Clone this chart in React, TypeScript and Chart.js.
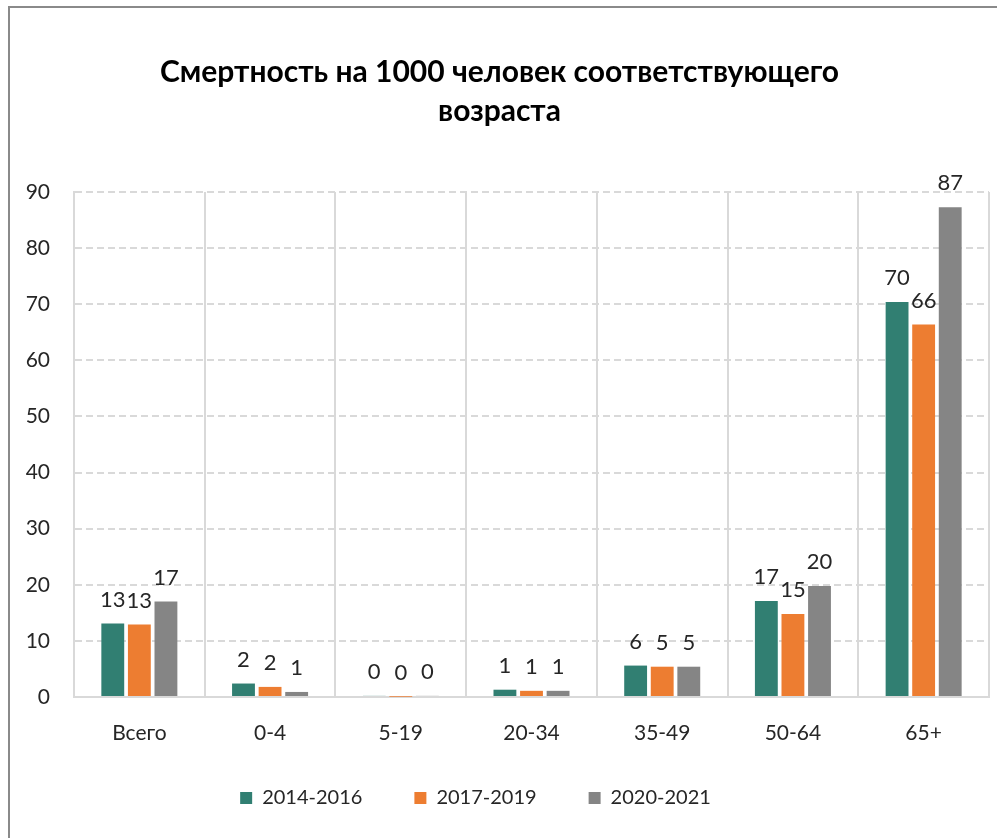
import React, { useEffect, useRef } from "react";
import { Chart, registerables } from "chart.js";

Chart.register(...registerables);

const categories = ["Всего", "0-4", "5-19", "20-34", "35-49", "50-64", "65+"];
const seriesNames = ["2014-2016", "2017-2019", "2020-2021"];
const values2014 = [13.1, 2.4, 0.2, 1.3, 5.6, 17.1, 70.4];
const values2017 = [12.9, 1.8, 0.05, 1.1, 5.4, 14.8, 66.4];
const values2020 = [17.0, 0.9, 0.2, 1.1, 5.4, 19.8, 87.3];
const colors = ["#317F72", "#ED7D31", "#858585"];
const titleLines = ["Смертность на 1000 человек соответствующего", "возраста"];
const yMax = 90;
const yStep = 10;

const FONT = "Lato, 'Open Sans', sans-serif";
const LEGEND_PAD = 52;
const LEGEND_CENTER_Y = 798;
const LEGEND_SHIFT_X = -24;

const dataLabelPlugin = {
  id: "dataLabels",
  afterDatasetsDraw(chart: any) {
    const ctx = chart.ctx;
    ctx.save();
    ctx.font = `22px ${FONT}`;
    ctx.fillStyle = "#262626";
    ctx.textAlign = "center";
    ctx.textBaseline = "bottom";
    chart.data.datasets.forEach((ds: any, di: number) => {
      const meta = chart.getDatasetMeta(di);
      meta.data.forEach((el: any, i: number) => {
        const v = ds.data[i];
        ctx.fillText(String(Math.round(v)), el.x, el.y - 13);
      });
    });
    ctx.restore();
  },
};

const legendPlacePlugin = {
  id: "legendPlace",
  afterLayout(chart: any) {
    const lg = chart.legend;
    if (!lg) return;
    const itemH = lg.height - LEGEND_PAD - 10;
    const top = LEGEND_CENTER_Y - LEGEND_PAD - itemH / 2;
    const dy = top - lg.top;
    lg.top += dy;
    lg.bottom += dy;
    lg.left += LEGEND_SHIFT_X;
    lg.right += LEGEND_SHIFT_X;
  },
};

export default function App() {
  const ref = useRef<HTMLCanvasElement | null>(null);
  useEffect(() => {
    if (!ref.current) return;
    const chart = new Chart(ref.current, {
      type: "bar",
      data: {
        labels: categories,
        datasets: [values2014, values2017, values2020].map((d, i) => ({
          label: seriesNames[i],
          data: d,
          backgroundColor: colors[i],
          barPercentage: 0.86,
          categoryPercentage: 0.61,
        })),
      },
      options: {
        responsive: false,
        animation: false,
        devicePixelRatio: 1,
        layout: { padding: { left: 10, right: 8, top: 0, bottom: -3 } },
        plugins: {
          title: {
            display: true,
            text: titleLines,
            color: "#000",
            font: { family: FONT, size: 30, weight: "bold", lineHeight: 1.3 },
            padding: { top: 53, bottom: 61 },
          },
          legend: {
            position: "bottom",
            labels: {
              boxWidth: 12,
              boxHeight: 12,
              padding: LEGEND_PAD,
              color: "#262626",
              font: { family: FONT, size: 20 },
            },
          },
          tooltip: { enabled: false },
        },
        scales: {
          x: {
            grid: { color: "#d9d9d9", lineWidth: 2, drawTicks: false, offset: true },
            border: { color: "#d9d9d9", width: 2 },
            ticks: { color: "#262626", font: { family: FONT, size: 21 }, padding: 24 },
            afterFit(scale: any) {
              scale.height = 62;
            },
          },
          y: {
            min: 0,
            max: yMax,
            ticks: { stepSize: yStep, color: "#262626", font: { family: FONT, size: 21 }, padding: 24 },
            grid: { color: "#d9d9d9", lineWidth: 2, drawTicks: false },
            border: { display: true, color: "#d9d9d9", width: 2, dash: [7, 4] },
            afterFit(scale: any) {
              scale.width = 64;
            },
          },
        },
      },
      plugins: [dataLabelPlugin, legendPlacePlugin],
    } as any);
    return () => chart.destroy();
  }, []);

  return (
    <div style={{ position: "fixed", left: 0, top: 0, width: 997, height: 838, overflow: "hidden", background: "#fff" }}>
      <div
        style={{
          position: "absolute",
          left: 8,
          top: 6,
          width: 1200,
          height: 1200,
          borderTop: "2px solid #8a8a8a",
          borderLeft: "2px solid #8a8a8a",
        }}
      />
      <canvas ref={ref} width={997} height={838} style={{ position: "absolute", left: 0, top: 0 }} />
    </div>
  );
}
